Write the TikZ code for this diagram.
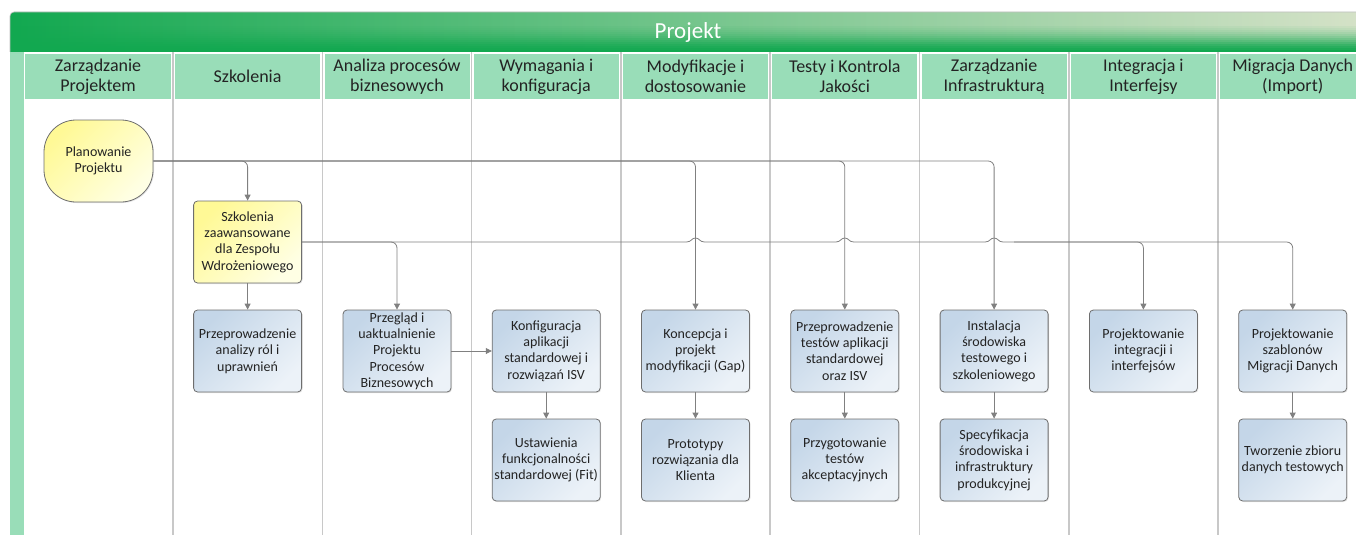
\documentclass[tikz,border=0pt]{standalone}
\usepackage{fontspec}
\setmainfont{Carlito}
\usetikzlibrary{arrows.meta,calc,shadows}

\definecolor{barGreen}{RGB}{18,168,80}
\definecolor{barPale}{RGB}{214,226,200}
\definecolor{laneGreen}{RGB}{153,221,184}
\definecolor{laneLine}{RGB}{200,200,200}
\definecolor{boxLine}{RGB}{110,110,110}
\definecolor{flowGray}{RGB}{128,128,128}
\definecolor{yelDark}{RGB}{255,249,150}
\definecolor{yelLight}{RGB}{255,255,228}
\definecolor{bluDark}{RGB}{196,214,232}
\definecolor{bluLight}{RGB}{236,242,248}
\definecolor{txt}{RGB}{35,35,35}

\tikzset{
  lane/.style={laneLine, line width=1.5pt},
  head/.style={fill=laneGreen, minimum width=145pt, minimum height=44.5pt, inner sep=0pt,
    align=center, text=txt, font=\fontsize{18}{20}\selectfont},
  task/.style={draw=boxLine, line width=0.8pt, rounded corners=4pt, minimum width=108pt,
    minimum height=82pt, inner sep=1pt, align=center, text=txt, font=\fontsize{14}{16.3}\selectfont,
    top color=bluDark, bottom color=bluLight, shading angle=45,
    drop shadow={opacity=0.2, shadow xshift=1pt, shadow yshift=-1pt}},
  train/.style={task, top color=yelDark, bottom color=yelLight, shading angle=45},
  flow/.style={flowGray, line width=0.8pt, rounded corners=6pt, -{Triangle[length=6pt, width=6pt]}},
}

\begin{document}
\begin{tikzpicture}[x=1pt, y=-1pt]
\useasboundingbox (0,0) rectangle (1356,535);

% title bar
\shade[left color=barGreen, right color=barPale, rounded corners=4pt] (10,12) rectangle (1370,52);
\foreach \y/\o in {26/0.05, 28/0.1, 30/0.16, 32/0.23, 34/0.31, 36/0.4, 38/0.5, 40/0.6, 42/0.7, 44/0.8, 46/0.88, 48/0.94, 50/1}
  \fill[barGreen, opacity=\o] (10,\y) rectangle (1370,\y+2);
\draw[gray!50, line width=0.6pt, rounded corners=4pt] (10,52) -- (10,12) -- (1370,12);
\node[text=white, font=\fontsize{23}{26}\selectfont] (title) at (688,32) {Projekt};

% swimlanes
\fill[laneGreen] (10,52) rectangle (23.5,535);
\draw[lane] (173,52) -- (173,535);
\draw[lane] (322.3,52) -- (322.3,535);
\draw[lane] (471.6,52) -- (471.6,535);
\draw[lane] (620.9,52) -- (620.9,535);
\draw[lane] (770.2,52) -- (770.2,535);
\draw[lane] (919.5,52) -- (919.5,535);
\draw[lane] (1068.8,52) -- (1068.8,535);
\draw[lane] (1218.1,52) -- (1218.1,535);

\node[head, minimum width=146pt] (h1) at (98,76.75) {Zarządzanie\\Projektem};
\node[head] (h2) at (247.6,76.75) {Szkolenia};
\node[head] (h3) at (397,76.75) {Analiza procesów\\biznesowych};
\node[head] (h4) at (546.2,76.75) {Wymagania i\\konfiguracja};
\node[head] (h5) at (695.5,76.75) {Modyfikacje i\\dostosowanie};
\node[head] (h6) at (844.8,76.75) {Testy i Kontrola\\Jakości};
\node[head] (h7) at (994.1,76.75) {Zarządzanie\\Infrastrukturą};
\node[head] (h8) at (1143.4,76.75) {Integracja i\\Interfejsy};
\node[head] (h9) at (1292.7,76.75) {Migracja Danych\\(Import)};

% tasks
\node[train, rounded corners=32pt, minimum width=109pt] (plan) at (98.5,161) {Planowanie\\Projektu};
\node[train] (szk) at (247.6,242) {Szkolenia\\zaawansowane\\dla Zespołu\\Wdrożeniowego};
\node[task] (rol) at (247.6,351) {Przeprowadzenie\\analizy ról i\\uprawnień};
\node[task] (przeg) at (397,351) {Przegląd i\\uaktualnienie\\Projektu\\Procesów\\Biznesowych};
\node[task] (konf) at (546.2,351) {Konfiguracja\\aplikacji\\standardowej i\\rozwiązań ISV};
\node[task] (ust) at (546.2,460) {Ustawienia\\funkcjonalności\\standardowej (Fit)};
\node[task] (konc) at (695.5,351) {Koncepcja i\\projekt\\modyfikacji (Gap)};
\node[task] (proto) at (695.5,460) {Prototypy\\rozwiązania dla\\Klienta};
\node[task] (testy) at (844.8,351) {Przeprowadzenie\\testów aplikacji\\standardowej\\oraz ISV};
\node[task] (akcept) at (844.8,460) {Przygotowanie\\testów\\akceptacyjnych};
\node[task] (inst) at (994.1,351) {Instalacja\\środowiska\\testowego i\\szkoleniowego};
\node[task] (spec) at (994.1,460) {Specyfikacja\\środowiska i\\infrastruktury\\produkcyjnej};
\node[task] (integr) at (1143.4,351) {Projektowanie\\integracji i\\interfejsów};
\node[task] (szabl) at (1292.7,351) {Projektowanie\\szablonów\\Migracji Danych};
\node[task] (zbior) at (1292.7,460) {Tworzenie zbioru\\danych testowych};

% flows
\draw[flow] (plan.east) -| (szk.north);
\draw[flow] (plan.east) -| (konc.north);
\draw[flow] (plan.east) -| (testy.north);
\draw[flow] (plan.east) -| (inst.north);

\draw[flow] (szk.east) -| (przeg.north);
\draw[flow, sharp corners] (szk.east)
  -- ($(konc.north |- szk.east)+(-9,0)$) .. controls +(5,0) and +(-4,0) .. ($(konc.north |- szk.east)+(0,-4)$)
  .. controls +(4,0) and +(-5,0) .. ($(konc.north |- szk.east)+(9,0)$)
  -- ($(testy.north |- szk.east)+(-9,0)$) .. controls +(5,0) and +(-4,0) .. ($(testy.north |- szk.east)+(0,-4)$)
  .. controls +(4,0) and +(-5,0) .. ($(testy.north |- szk.east)+(9,0)$)
  -- ($(inst.north |- szk.east)+(-9,0)$) .. controls +(5,0) and +(-4,0) .. ($(inst.north |- szk.east)+(0,-4)$)
  .. controls +(4,0) and +(-5,0) .. ($(inst.north |- szk.east)+(9,0)$)
  [rounded corners=6pt] -| (szabl.north);
\coordinate (split) at ($(inst.north |- szk.east)+(20,0)$);
\draw[flow] (split) -| (integr.north);

\draw[flow] (szk) -- (rol);
\draw[flow] (przeg) -- (konf);
\draw[flow] (konf) -- (ust);
\draw[flow] (konc) -- (proto);
\draw[flow] (testy) -- (akcept);
\draw[flow] (inst) -- (spec);
\draw[flow] (szabl) -- (zbior);

\end{tikzpicture}
\end{document}
